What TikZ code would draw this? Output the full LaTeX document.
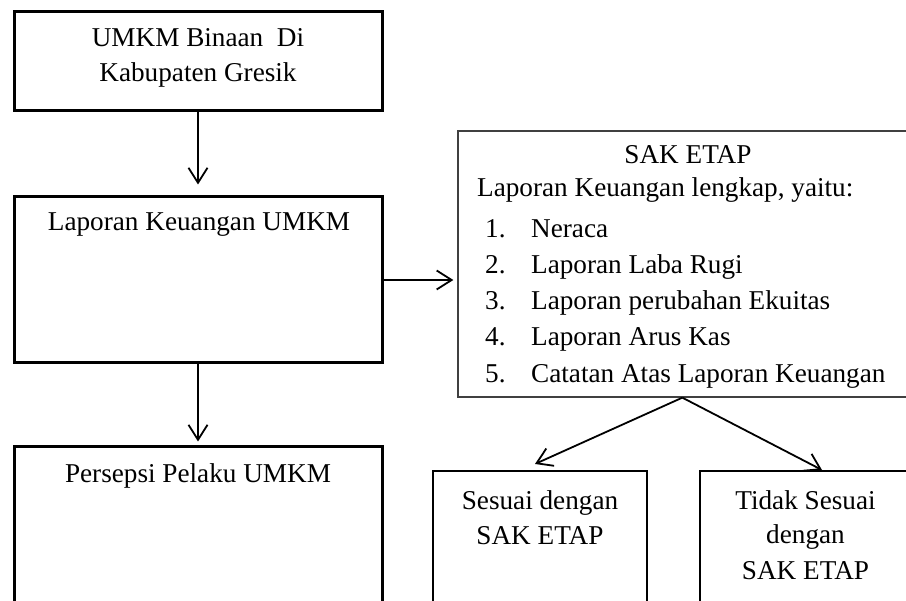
\documentclass[tikz,border=0pt]{standalone}
\usepackage{fontspec}
\setmainfont{Liberation Serif}
\usetikzlibrary{arrows.meta,calc}
\tikzset{
  thickbox/.style={draw=black, line width=3pt, minimum width=368pt, inner sep=0pt},
  medbox/.style={draw=black, line width=2.5pt, inner sep=0pt},
  thinbox/.style={draw=black!75, line width=1.3pt, inner sep=0pt},
  txt/.style={font=\fontsize{27.2pt}{34pt}\selectfont, inner sep=0pt, anchor=base},
  txtw/.style={txt, anchor=base west},
  arr/.style={line width=1.8pt, -{Straight Barb[length=15pt,width=19pt]}}
}
\begin{document}
\begin{tikzpicture}[x=1pt,y=-1pt]
\useasboundingbox (0,0) rectangle (906,601);
\clip (0,0) rectangle (906,601);
\fill[white] (0,0) rectangle (906,601);

% boxes
\node[thickbox, minimum height=99pt] (b1) at (198,61.5) {};
\node[thickbox, minimum height=166pt] (b2) at (198,280) {};
\node[thickbox, minimum height=176pt] (b3) at (198,535) {};
\node[thinbox, minimum width=460pt, minimum height=266pt] (sak) at (688,264) {};
\node[medbox, minimum width=214pt, minimum height=159pt] (b4) at (540,550.5) {};
\node[medbox, minimum width=211pt, minimum height=159pt] (b5) at (805.5,550.5) {};

% texts
\node[txt] (t1a) at (198,47) {UMKM Binaan\ \ Di};
\node[txt] (t1b) at (198,81.5) {Kabupaten Gresik};
\node[txt] (t2) at (199,231) {Laporan Keuangan UMKM};
\node[txt] (t3) at (198,483) {Persepsi Pelaku UMKM};

\node[txt] (s0) at (688,164) {SAK ETAP};
\node[txtw] (s1) at (477,197) {Laporan Keuangan lengkap, yaitu:};
\node[txtw] (n1) at (485,238) {1.};
\node[txtw] (i1) at (531,238) {Neraca};
\node[txtw] (n2) at (485,274) {2.};
\node[txtw] (i2) at (531,274) {Laporan Laba Rugi};
\node[txtw] (n3) at (485,310) {3.};
\node[txtw] (i3) at (531,310) {Laporan perubahan Ekuitas};
\node[txtw] (n4) at (485,346) {4.};
\node[txtw] (i4) at (531,346) {Laporan Arus Kas};
\node[txtw] (n5) at (485,383) {5.};
\node[txtw] (i5) at (531,383) {Catatan Atas Laporan Keuangan};

\node[txt] (u1) at (540,510) {Sesuai dengan};
\node[txt] (u2) at (540,545) {SAK ETAP};
\node[txt] (v1) at (805.5,510) {Tidak Sesuai};
\node[txt] (v2) at (805.5,544) {dengan};
\node[txt] (v3) at (805.5,580) {SAK ETAP};

% connectors
\coordinate (apex) at ($(sak.south west)+(225,0)$);
\coordinate (tipL) at (535,464);
\coordinate (tipR) at (822,470);
\draw[arr, shorten >=11pt] (b1.south) -- (b2.north);
\draw[arr, shorten >=4pt] (b2.south) -- (b3.north);
\draw[arr, shorten >=4pt] (b2.east) -- (sak.west |- b2.east);
\draw[arr] (apex) -- (tipL);
\draw[arr] (apex) -- (tipR);
\end{tikzpicture}
\end{document}
